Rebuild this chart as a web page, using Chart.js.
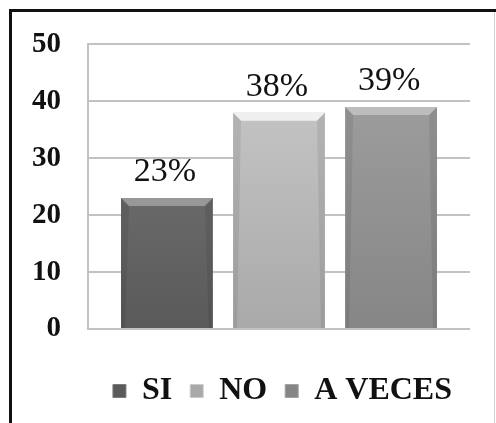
<!DOCTYPE html>
<html>
<head>
<meta charset="utf-8">
<script src="https://cdn.jsdelivr.net/npm/chart.js@4"></script>
<style>
  html, body { margin: 0; padding: 0; background: #fff; }
  #wrap { width: 496px; height: 423px; position: relative; }
</style>
</head>
<body>
<div id="wrap"><canvas id="chart"></canvas></div>
<script>
// chart data
const categories = [''];
const seriesNames = ['SI', 'NO', 'A VECES'];
const seriesValues = [23, 38, 39];
const percentLabels = ['23%', '38%', '39%'];
const yTicks = [0, 10, 20, 30, 40, 50];

// grey shades: top, bottom, bevel highlight
const barTop = ['#7a7a7a', '#cbcbcb', '#a2a2a2'];
const barBottom = ['#5a5a5a', '#a9a9a9', '#868686'];
const bevel = ['#989898', '#f0f0f0', '#bdbdbd'];

function fillFor(i) {
    return (context) => {
        const chart = context.chart;
        const area = chart.chartArea;
        if (!area) return barBottom[i];
        const g = chart.ctx.createLinearGradient(0, area.top, 0, area.bottom);
        g.addColorStop(0, barTop[i]);
        g.addColorStop(1, barBottom[i]);
        return g;
    };
}

// frame round the picture (left and top dark, right light)
const framePlugin = {
    id: 'frame',
    beforeDraw(chart) {
        const ctx = chart.ctx;
        ctx.save();
        ctx.fillStyle = '#111';
        ctx.fillRect(9, 9, 487, 3);
        ctx.fillRect(9, 9, 3, 414);
        ctx.fillStyle = '#d0d0d0';
        ctx.fillRect(494, 12, 1, 411);
        ctx.restore();
    }
};

// bevel on the bars and the percent labels above them
const barDeco = {
    id: 'barDeco',
    afterDatasetsDraw(chart) {
        const ctx = chart.ctx;
        ctx.save();
        chart.data.datasets.forEach((ds, i) => {
            const bar = chart.getDatasetMeta(i).data[0];
            const left = bar.x - bar.width / 2;
            const right = bar.x + bar.width / 2;
            const top = bar.y;
            const bottom = bar.base;
            const b = 8;
            // top bevel
            ctx.fillStyle = bevel[i];
            ctx.beginPath();
            ctx.moveTo(left, top);
            ctx.lineTo(right, top);
            ctx.lineTo(right - b, top + b);
            ctx.lineTo(left + b, top + b);
            ctx.closePath();
            ctx.fill();
            // side shading
            ctx.fillStyle = 'rgba(0,0,0,0.08)';
            ctx.beginPath();
            ctx.moveTo(left, top);
            ctx.lineTo(left + b, top + b);
            ctx.lineTo(left + 4, bottom);
            ctx.lineTo(left, bottom);
            ctx.closePath();
            ctx.fill();
            ctx.beginPath();
            ctx.moveTo(right, top);
            ctx.lineTo(right - b, top + b);
            ctx.lineTo(right - 4, bottom);
            ctx.lineTo(right, bottom);
            ctx.closePath();
            ctx.fill();
            // label
            ctx.fillStyle = '#111';
            ctx.font = '34px "Liberation Serif", "Times New Roman", serif';
            ctx.textAlign = 'center';
            ctx.textBaseline = 'alphabetic';
            ctx.fillText(percentLabels[i], bar.x - 2, top - 17);
        });
        ctx.restore();
    }
};

const ctx = document.getElementById('chart').getContext('2d');
const chart = new Chart(ctx, {
    type: 'bar',
    data: {
        labels: categories,
        datasets: seriesNames.map((name, i) => ({
            label: name,
            data: [seriesValues[i]],
            backgroundColor: fillFor(i),
            borderWidth: 0,
            categoryPercentage: 0.88,
            barPercentage: 0.82
        }))
    },
    options: {
        responsive: true,
        maintainAspectRatio: false,
        animation: false,
        layout: {
            padding: { left: 0, right: 26, top: 39, bottom: 6 }
        },
        scales: {
            x: {
                display: true,
                afterFit(scale) { scale.height = 28; },
                grid: { display: false },
                border: { display: false },
                ticks: { display: false }
            },
            y: {
                min: 0,
                max: 50,
                afterFit(scale) { scale.width = 88; },
                afterBuildTicks(scale) { scale.ticks = yTicks.map(v => ({ value: v })); },
                border: { display: true, color: '#c2c2c2', width: 2 },
                grid: { color: '#c2c2c2', lineWidth: 2, drawTicks: false },
                ticks: {
                    padding: 27,
                    color: '#111',
                    font: { family: '"Liberation Serif", "Times New Roman", serif', size: 29, weight: 'bold' }
                }
            }
        },
        plugins: {
            legend: {
                display: true,
                position: 'bottom',
                align: 'end',
                labels: {
                    color: '#111',
                    boxWidth: 13,
                    boxHeight: 13,
                    padding: 18,
                    font: { family: '"Liberation Serif", "Times New Roman", serif', size: 32, weight: 'bold' },
                    generateLabels(chart) {
                        return seriesNames.map((name, i) => ({
                            text: name,
                            fillStyle: barBottom[i],
                            strokeStyle: barTop[i],
                            lineWidth: 1,
                            fontColor: '#111',
                            datasetIndex: i,
                            hidden: false
                        }));
                    }
                }
            },
            tooltip: { enabled: false }
        }
    },
    plugins: [framePlugin, barDeco]
});
</script>
</body>
</html>
